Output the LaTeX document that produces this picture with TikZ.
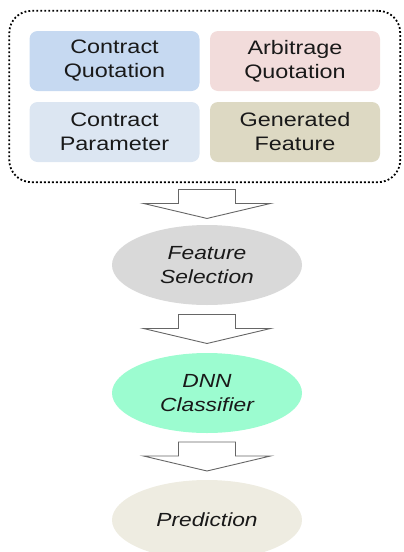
\documentclass[tikz,border=0pt]{standalone}
\usepackage{fontspec}
\setmainfont{Liberation Sans}[FakeStretch=1.2]
\usetikzlibrary{positioning, fit, calc, shapes.geometric}

\definecolor{cqblue}{HTML}{C6D9F1}
\definecolor{aqpink}{HTML}{F2DCDB}
\definecolor{cpblue}{HTML}{DCE6F2}
\definecolor{gfolive}{HTML}{DDD9C3}
\definecolor{fsgray}{HTML}{D9D9D9}
\definecolor{dnngreen}{HTML}{9CFCD0}
\definecolor{predbeige}{HTML}{EEECE1}
\definecolor{arrowgray}{HTML}{666666}

\begin{document}
\begin{tikzpicture}[x=1pt,y=-1pt,on grid,text=black!90,
  box/.style={rectangle,rounded corners=8pt,minimum width=170pt,minimum height=60pt,
    align=center,font=\fontsize{19.5}{24}\selectfont},
  oval/.style={ellipse,minimum width=190pt,minimum height=80pt,inner sep=0pt,
    align=center,font=\fontsize{19}{24}\selectfont\itshape},
  group/.style={draw,line width=1.8pt,dash pattern=on 1.8pt off 2.2pt,rounded corners=22pt},
  blockarrow/.pic={
    \draw[arrowgray,fill=white,line width=0.9pt,line join=miter]
      (-28.5,-14.5) -- (28.5,-14.5) -- (28.5,-0.5) -- (63.5,-0.5)
      -- (0,14.5) -- (-63.5,-0.5) -- (-28.5,-0.5) -- cycle;
  }]
  \useasboundingbox (0,0) rectangle (404,552);

  % input data
  \node[box,fill=cqblue] (cq) at (114.5,61)     {Contract\\Quotation};
  \node[box,fill=aqpink] (aq) [right=180.5pt of cq] {Arbitrage\\Quotation};
  \node[box,fill=cpblue] (cp) [below=71pt of cq]    {Contract\\Parameter};
  \node[box,fill=gfolive] (gf) [right=180.5pt of cp] {Generated\\Feature};
  \node[group,fit=(cq)(gf),inner sep=20pt] (inputs) {};

  % pipeline
  \node[oval,fill=fsgray] (fs) at (207,265)      {Feature\\Selection};
  \node[oval,fill=dnngreen] (dnn) [below=128pt of fs] {DNN\\Classifier};
  \node[oval,fill=predbeige] (pred) [below=127pt of dnn] {Prediction};

  \pic at ($(inputs.south -| fs.north)!0.5!(fs.north)$) {blockarrow};
  \pic at ($(fs.south)!0.5!(dnn.north)$) {blockarrow};
  \pic at ($(dnn.south)!0.5!(pred.north)$) {blockarrow};
\end{tikzpicture}
\end{document}
